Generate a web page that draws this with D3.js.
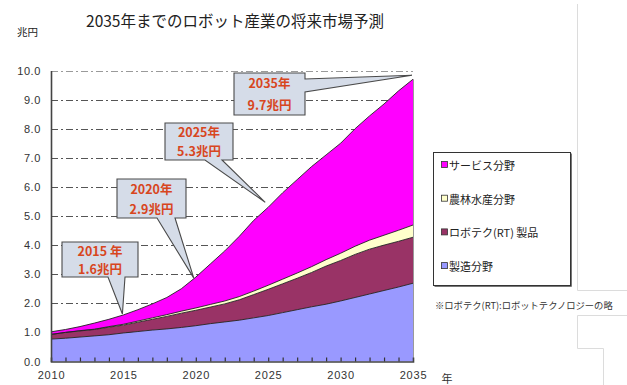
<!DOCTYPE html>
<html lang="ja">
<head>
<meta charset="utf-8">
<script src="https://cdn.jsdelivr.net/npm/d3@7/dist/d3.min.js"></script>
<style>
  html, body { margin: 0; padding: 0; background: #fff; }
  svg { display: block; font-family: "Noto Sans CJK JP", "Noto Sans", sans-serif; }
</style>
</head>
<body>
<svg id="chart" width="627" height="385"></svg>
<script>
// Years on the horizontal axis (one point per year)
const years = d3.range(2010, 2036);

// Market size by sector, 兆円 per year (2010–2035)
const manufacturing = [0.77, 0.80, 0.84, 0.88, 0.92, 0.98, 1.03, 1.08, 1.12, 1.17, 1.23, 1.30, 1.36,
                       1.42, 1.50, 1.58, 1.68, 1.78, 1.88, 1.97, 2.08, 2.20, 2.32, 2.44, 2.56, 2.69];
const rtProducts    = [0.16, 0.20, 0.21, 0.22, 0.26, 0.27, 0.32, 0.37, 0.43, 0.49, 0.53, 0.57, 0.62,
                       0.70, 0.80, 0.90, 0.99, 1.08, 1.18, 1.31, 1.39, 1.48, 1.54, 1.56, 1.57, 1.58];
const agriculture   = [0.00, 0.00, 0.01, 0.01, 0.02, 0.03, 0.04, 0.05, 0.06, 0.07, 0.08, 0.09, 0.10,
                       0.11, 0.12, 0.14, 0.16, 0.18, 0.20, 0.22, 0.25, 0.28, 0.31, 0.34, 0.38, 0.42];
const service       = [0.09, 0.10, 0.14, 0.21, 0.25, 0.32, 0.39, 0.48, 0.59, 0.77, 1.06, 1.39, 1.72,
                       2.07, 2.43, 2.68, 2.97, 3.21, 3.44, 3.60, 3.78, 4.04, 4.27, 4.51, 4.79, 5.01];

// Series names, bottom of the stack first
const seriesNames = ["製造分野", "ロボテク(RT) 製品", "農林水産分野", "サービス分野"];
const seriesValues = [manufacturing, rtProducts, agriculture, service];
const seriesColors = ["#9999ff", "#993366", "#ffffcc", "#ff00ff"];

// Axis tick labels
const yTicks = d3.range(0, 11);
const xLabelYears = [2010, 2015, 2020, 2025, 2030, 2035];

// Years that get a call-out with the total market size
const calloutYears = [2015, 2020, 2025, 2035];
const calloutYearSep = { 2015: " 年" };

// Call-out box geometry (layout only)
const calloutLayout = [
  { x: 62,  y: 242, w: 76, h: 35, side: "bottom", base: [108, 125], tipDx: -1, tipDy: -1 },
  { x: 117, y: 179, w: 69, h: 39, side: "bottom", base: [157, 175], tipDx: -2, tipDy: 1 },
  { x: 165, y: 123, w: 68, h: 37, side: "bottom", base: [205, 222], tipDx: -3, tipDy: -5 },
  { x: 234, y: 73,  w: 71, h: 42, side: "right",  base: [79, 92],   tipDx: -1, tipDy: -4 }
];

const svg = d3.select("#chart");

const x = d3.scaleLinear().domain([2010, 2035]).range([51, 413]);
const y = d3.scaleLinear().domain([0, 10]).range([361.5, 70.5]);

// Build a table of rows for d3.stack
const rows = years.map((yr, i) => {
  const r = { year: yr };
  seriesNames.forEach((n, k) => { r[n] = seriesValues[k][i]; });
  return r;
});
const stacked = d3.stack().keys(seriesNames)(rows);
const totals = rows.map(r => d3.sum(seriesNames, n => r[n]));

// Title
svg.append("text")
  .attr("x", 235).attr("y", 27)
  .attr("text-anchor", "middle")
  .attr("font-size", 15.5)
  .attr("fill", "#222")
  .text("2035年までのロボット産業の将来市場予測");

// Unit label
svg.append("text")
  .attr("x", 17).attr("y", 36)
  .attr("font-size", 10.5)
  .attr("fill", "#222")
  .text("兆円");

// Horizontal dash-dot grid lines
svg.append("g")
  .selectAll("line")
  .data(yTicks.filter(v => v > 0))
  .join("line")
  .attr("x1", x(2010)).attr("x2", x(2035))
  .attr("y1", d => Math.round(y(d)) + 0.5)
  .attr("y2", d => Math.round(y(d)) + 0.5)
  .attr("stroke", d => d === 10 ? "#9a9a9a" : "#555")
  .attr("stroke-width", 1.1)
  .attr("stroke-dasharray", "7,3,2,3");

// Stacked areas
const area = d3.area()
  .x(d => x(d.data.year))
  .y0(d => y(d[0]))
  .y1(d => y(d[1]));
const topLine = d3.line()
  .x(d => x(d.data.year))
  .y(d => y(d[1]));

const layers = svg.append("g");
layers.selectAll("path.area")
  .data(stacked)
  .join("path")
  .attr("class", "area")
  .attr("d", area)
  .attr("fill", (d, i) => seriesColors[i]);
layers.selectAll("path.edge")
  .data(stacked)
  .join("path")
  .attr("class", "edge")
  .attr("d", topLine)
  .attr("fill", "none")
  .attr("stroke", "#222")
  .attr("stroke-width", 0.9);

// Right edge of the stack
svg.append("line")
  .attr("x1", x(2035) + 0.5).attr("x2", x(2035) + 0.5)
  .attr("y1", y(totals[totals.length - 1])).attr("y2", y(0))
  .attr("stroke", "#9a9a9a").attr("stroke-width", 1);

// Y axis
const yAxis = d3.axisLeft(y).tickValues(yTicks).tickSize(0).tickPadding(10)
  .tickFormat(d3.format(".1f"));
const gy = svg.append("g").attr("transform", `translate(${x(2010)},0)`).call(yAxis);
gy.select(".domain").attr("stroke", "#444").attr("stroke-width", 1.6);
gy.selectAll("text")
  .attr("font-size", 11).attr("fill", "#333")
  .attr("letter-spacing", 0.6)
  .attr("font-family", "'Liberation Sans', Arial, sans-serif");

// X axis: yearly tick marks pointing into the plot, labels every five years
const xAxis = d3.axisBottom(x).tickValues(years).tickSize(-4).tickPadding(10)
  .tickFormat(d => xLabelYears.includes(d) ? String(d) : "");
const gx = svg.append("g").attr("transform", `translate(0,${y(0)})`).call(xAxis);
gx.select(".domain").attr("stroke", "#444").attr("stroke-width", 1.6);
gx.selectAll(".tick line").attr("stroke", "#333").attr("stroke-width", 1.2);
gx.selectAll(".tick").filter(d => d === 2010 || d === 2035).select("line").remove();
gx.selectAll("text")
  .attr("font-size", 11).attr("fill", "#333")
  .attr("letter-spacing", 0.8)
  .attr("font-family", "'Liberation Sans', Arial, sans-serif");

svg.append("text")
  .attr("x", 447).attr("y", 383)
  .attr("text-anchor", "middle")
  .attr("font-size", 11).attr("fill", "#333")
  .text("年");

// Call-outs with the total market size
const fmt = d3.format(".1f");
const callouts = svg.append("g");
calloutYears.forEach((yr, i) => {
  const L = calloutLayout[i];
  const total = totals[years.indexOf(yr)];
  const tx = x(yr) + L.tipDx;
  const ty = y(total) + L.tipDy;
  let p;
  if (L.side === "bottom") {
    p = `M${L.x},${L.y}H${L.x + L.w}V${L.y + L.h}H${L.base[1]}L${tx},${ty}L${L.base[0]},${L.y + L.h}H${L.x}Z`;
  } else {
    p = `M${L.x},${L.y}H${L.x + L.w}V${L.base[0]}L${tx},${ty}L${L.x + L.w},${L.base[1]}V${L.y + L.h}H${L.x}Z`;
  }
  callouts.append("path")
    .attr("d", p)
    .attr("fill", "#d5dce8")
    .attr("stroke", "#4a4a4a")
    .attr("stroke-width", 1.1)
    .attr("stroke-linejoin", "miter");
  const cx = L.x + L.w / 2;
  const sep = calloutYearSep[yr] || "年";
  const lines = [`${yr}${sep}`, `${fmt(total)}兆円`];
  const t = callouts.append("text")
    .attr("text-anchor", "middle")
    .attr("font-size", 12.5).attr("font-weight", 600).attr("fill", "#d8461e");
  lines.forEach((s, j) => {
    t.append("tspan")
      .attr("x", cx)
      .attr("y", L.y + L.h * (j === 0 ? 0.26 : 0.78) + 4.5)
      .text(s);
  });
});

// Legend (top of stack listed first)
const legend = svg.append("g");
legend.append("rect")
  .attr("x", 433.5).attr("y", 152.5).attr("width", 137).attr("height", 133)
  .attr("fill", "none").attr("stroke", "#333").attr("stroke-width", 1);
legend.append("path")
  .attr("d", "M571.5,153.5V286.5H434.5")
  .attr("fill", "none").attr("stroke", "#777").attr("stroke-width", 1);
const legendOrder = [3, 2, 1, 0];
legendOrder.forEach((k, j) => {
  const cy = 165 + j * 33.7;
  legend.append("rect")
    .attr("x", 441.5).attr("y", cy - 3.5).attr("width", 6).attr("height", 6)
    .attr("fill", seriesColors[k]).attr("stroke", "#333").attr("stroke-width", 0.8);
  legend.append("text")
    .attr("x", 449).attr("y", cy)
    .attr("dominant-baseline", "central")
    .attr("font-size", 11).attr("fill", "#222")
    .text(seriesNames[k]);
});

// Footnote
svg.append("text")
  .attr("x", 435).attr("y", 305)
  .attr("dominant-baseline", "central")
  .attr("font-size", 9.3).attr("fill", "#333")
  .text("※ロボテク(RT):ロボットテクノロジーの略");

// Light frame lines along the right margin
const frame = svg.append("g").attr("stroke", "#dcdcdc").attr("stroke-width", 1).attr("fill", "none");
frame.append("path").attr("d", "M577.5,4V290.5H627");
frame.append("path").attr("d", "M627,315.5H577.5V348.5H603.5V385");
</script>
</body>
</html>
